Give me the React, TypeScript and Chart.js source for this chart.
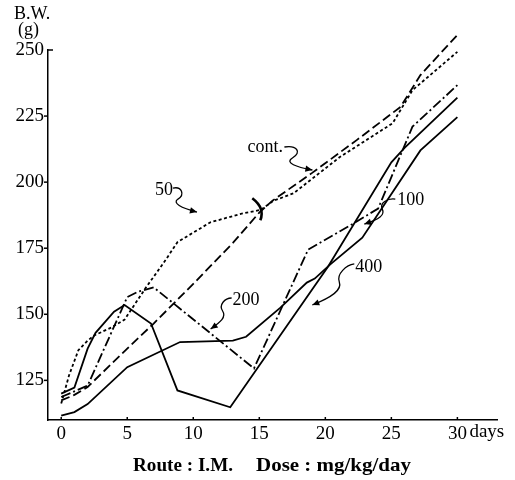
import React, { useEffect, useRef } from 'react';
import { Chart, registerables } from 'chart.js';

Chart.register(...registerables);

// Tick values
const xTicks = [0, 5, 10, 15, 20, 25, 30];
const yTicks = [125, 150, 175, 200, 225, 250];

// Series: control (long dash)
const contDays = [0, 1, 2, 5, 7, 10, 13, 15, 16, 19, 22.4, 25.7, 27.2, 30];
const contBW = [117.4, 119.5, 122.5, 137, 146.5, 161.5, 177, 188.5, 193, 203.5, 216, 228.5, 240.5, 255.7];

// 50 mg/kg/day (dotted)
const d50Days = [0, 0.6, 1.3, 2, 2.5, 3.8, 4.8, 6.4, 7.9, 8.8, 11.3, 13.6, 15.1, 16.1, 17.6, 21.1, 25.1, 26.6, 30];
const d50BW = [116.2, 127, 136.4, 140, 142, 145, 148, 160, 170.5, 177.3, 184.8, 188, 189.5, 193, 195.8, 209.5, 222.3, 234.8, 249.3];

// 100 mg/kg/day (solid)
const d100Days = [0, 1, 2, 5, 9, 13, 14, 16.6, 18.6, 19.2, 20.4, 22.8, 27.2, 30];
const d100BW = [111.7, 113, 116, 130, 139.5, 140, 141.5, 152.5, 162, 163.5, 169, 179, 212, 224.6];

// 200 mg/kg/day (dash-dot)
const d200Days = [0, 2, 5, 5.8, 7, 14.6, 18.7, 22, 24, 26.6, 30];
const d200BW = [118.7, 123, 156.5, 158.5, 160.2, 129.5, 174.5, 184, 190, 221, 236.7];

// 400 mg/kg/day (solid)
const d400Days = [0, 1, 2, 2.6, 4, 4.8, 6.8, 8.8, 12.8, 20.2, 25, 26, 30];
const d400BW = [120, 122.3, 137, 143, 151, 153.5, 146.5, 121.2, 114.8, 168, 207.5, 213, 232];

const serif = '"Liberation Serif", "DejaVu Serif", serif';

const pts = (xs: number[], ys: number[]) => xs.map((x, i) => ({ x, y: ys[i] }));

export default function App() {
  const ref = useRef<HTMLCanvasElement>(null);

  useEffect(() => {
    const canvas = ref.current!;

    const decor = {
      id: 'decor',
      afterDraw(chart: any) {
        const ctx = chart.ctx as CanvasRenderingContext2D;
        const xs = chart.scales.x;
        const ys = chart.scales.y;
        const area = chart.chartArea;
        const P = (d: number, v: number) => [xs.getPixelForValue(d), ys.getPixelForValue(v)];
        ctx.save();
        ctx.strokeStyle = '#000';
        ctx.fillStyle = '#000';
        ctx.lineWidth = 1.5;
        // y ticks (outside, left)
        yTicks.forEach((v) => {
          const y = ys.getPixelForValue(v);
          ctx.beginPath();
          if (v === 250) {
            ctx.moveTo(area.left, y);
            ctx.lineTo(area.left + 5, y);
          } else {
            ctx.moveTo(area.left - 4, y);
            ctx.lineTo(area.left, y);
          }
          ctx.stroke();
        });
        // x ticks (inside, up)
        xTicks.forEach((v) => {
          const x = xs.getPixelForValue(v);
          ctx.beginPath();
          ctx.moveTo(x, area.bottom);
          ctx.lineTo(x, area.bottom - 3);
          ctx.stroke();
        });
        // axis titles
        ctx.font = `18px ${serif}`;
        ctx.textBaseline = 'middle';
        ctx.textAlign = 'left';
        ctx.fillText('B.W.', 14, 14);
        ctx.fillText('(g)', 18, 30);
        // "days"
        ctx.font = `19px ${serif}`;
        const x30 = xs.getPixelForValue(30);
        ctx.fillText('days', x30 + 12, area.bottom + 12);
        // caption
        ctx.font = `bold 19px ${serif}`;
        const drawFit = (t: string, x0: number, x1: number, y: number) => {
          const w = ctx.measureText(t).width;
          ctx.save();
          ctx.translate(x0, y);
          ctx.scale((x1 - x0) / w, 1);
          ctx.fillText(t, 0, 0);
          ctx.restore();
        };
        drawFit('Route : I.M.', 133, 233, 466);
        drawFit('Dose : mg/kg/day', 256, 411, 466);

        // labels with squiggle arrows
        ctx.font = `18px ${serif}`;
        ctx.lineWidth = 1.3;
        const arrowHead = (tx: number, ty: number, fx: number, fy: number) => {
          const a = Math.atan2(ty - fy, tx - fx);
          const L = 7, W = 3.2;
          ctx.beginPath();
          ctx.moveTo(tx, ty);
          ctx.lineTo(tx - L * Math.cos(a) + W * Math.sin(a), ty - L * Math.sin(a) - W * Math.cos(a));
          ctx.lineTo(tx - L * Math.cos(a) - W * Math.sin(a), ty - L * Math.sin(a) + W * Math.cos(a));
          ctx.closePath();
          ctx.fill();
        };
        const label = (text: string, d: number, v: number, path: number[][]) => {
          const [lx, ly] = P(d, v);
          ctx.fillText(text, lx, ly);
          ctx.beginPath();
          ctx.moveTo(lx + path[0][0], ly + path[0][1]);
          for (let i = 1; i < path.length; i++) {
            const c = path[i];
            ctx.bezierCurveTo(lx + c[0], ly + c[1], lx + c[2], ly + c[3], lx + c[4], ly + c[5]);
          }
          ctx.stroke();
          const last = path[path.length - 1];
          arrowHead(lx + last[4], ly + last[5], lx + last[2], ly + last[3]);
        };
        label('cont.', 14.1, 213.3, [[37, 0], [49, -2, 55, 5, 45, 11], [37, 16, 49, 20, 65, 23]]);
        label('50', 7.1, 197.0, [[18, -2], [27, -4, 30, 5, 23, 9], [17, 13, 26, 18, 42, 22]]);
        label('100', 25.45, 193.2, [[-2, -1], [-10, -2, -18, 3, -15, 9], [-12, 15, -18, 19, -33, 24]]);
        label('200', 12.98, 155.4, [[-1, -2], [-8, -2, -14, 5, -10, 11], [-6, 17, -12, 22, -22, 29]]);
        label('400', 22.27, 167.9, [[-1, -3], [-9, -2, -19, 7, -16, 15], [-13, 23, -23, 30, -43, 38]]);

        // bracket mark on control line at day 15
        const [bx, by] = P(15, 189);
        ctx.lineWidth = 2.6;
        ctx.beginPath();
        ctx.moveTo(bx - 7, by - 13);
        ctx.quadraticCurveTo(bx + 6, by - 3, bx + 1, by + 9);
        ctx.stroke();
        ctx.restore();
      },
    };

    const base = {
      borderColor: '#000',
      borderWidth: 1.8,
      pointRadius: 0,
      tension: 0,
      fill: false,
      clip: false as const,
    };

    const chart = new Chart(canvas, {
      type: 'line',
      data: {
        datasets: [
          { ...base, label: 'cont.', data: pts(contDays, contBW), borderDash: [9, 4] },
          { ...base, label: '50', data: pts(d50Days, d50BW), borderDash: [3, 2.5] },
          { ...base, label: '100', data: pts(d100Days, d100BW) },
          { ...base, label: '200', data: pts(d200Days, d200BW), borderDash: [10, 3, 2, 3] },
          { ...base, label: '400', data: pts(d400Days, d400BW) },
        ] as any,
      },
      options: {
        animation: false,
        responsive: false,
        layout: { padding: { top: 50, right: 18, left: 0, bottom: 0 } },
        plugins: { legend: { display: false }, tooltip: { enabled: false } },
        scales: {
          x: {
            type: 'linear',
            min: -1,
            max: 33,
            afterBuildTicks: (s: any) => {
              s.ticks = xTicks.map((v) => ({ value: v }));
            },
            afterFit: (s: any) => {
              s.height = 60;
            },
            grid: { display: false, drawTicks: false },
            border: { display: true, color: '#000', width: 1.5 },
            ticks: { color: '#000', font: { family: serif, size: 19 }, padding: 3, maxRotation: 0, autoSkip: false },
          },
          y: {
            type: 'linear',
            min: 110,
            max: 250,
            afterBuildTicks: (s: any) => {
              s.ticks = yTicks.map((v) => ({ value: v }));
            },
            afterFit: (s: any) => {
              s.width = 48;
            },
            grid: { display: false, drawTicks: false },
            border: { display: true, color: '#000', width: 1.5 },
            ticks: { color: '#000', font: { family: serif, size: 19 }, padding: 4, autoSkip: false },
          },
        },
      },
      plugins: [decor],
    });
    return () => chart.destroy();
  }, []);

  return (
    <div style={{ position: 'fixed', left: 0, top: 0, width: 515, height: 480, background: '#fff' }}>
      <canvas ref={ref} width={515} height={480} style={{ display: 'block' }} />
    </div>
  );
}
